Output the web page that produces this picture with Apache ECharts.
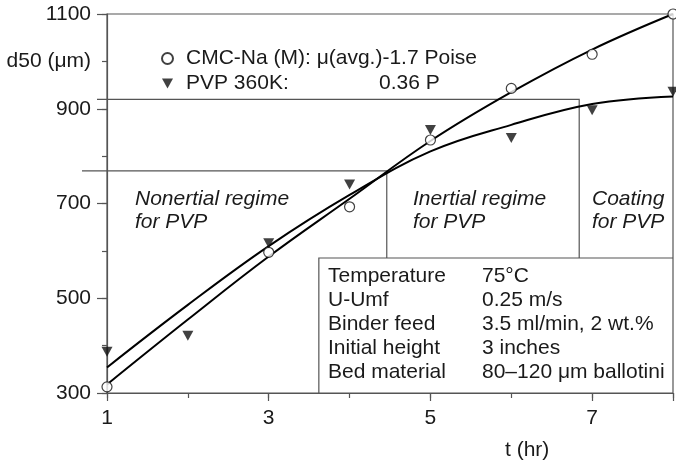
<!DOCTYPE html>
<html>
<head>
<meta charset="utf-8">
<script src="https://cdn.jsdelivr.net/npm/echarts@6/dist/echarts.min.js"></script>
<style>
html, body { margin: 0; padding: 0; background: #fff; }
#chart { width: 676px; height: 464px; }
</style>
</head>
<body>
<div id="chart"></div>
<script>
// measured points, t in hours
const cmcT = [1, 3, 4, 5, 6, 7, 8];
const cmcD50 = [313, 597, 693, 834, 943, 1015, 1100];
const pvpT = [1, 2, 3, 4, 5, 6, 7, 8];
const pvpD50 = [387, 421, 616, 740, 855, 838, 897, 936];

// fitted curves
const fitT = [1, 2, 3, 4, 5, 6, 7, 8];
const cmcFit = [318, 455, 588, 710, 832, 935, 1025, 1100];
const pvpFit = [354, 486, 610, 718, 810, 866, 910, 926];

// regime boundaries (t, d50)
const nonInertialEnd = [4.46, 769];
const inertialEnd = [6.84, 920];
const tableTop = 585;
const tableLeft = 3.62;

const yTickLabels = [300, 500, 700, 900, 1100];
const xTickLabels = [1, 3, 5, 7];

const legendCmc = 'CMC-Na (M): μ(avg.)-1.7 Poise';
const legendPvp = 'PVP 360K';

const conditions = ['Temperature', 'U-Umf', 'Binder feed', 'Initial height', 'Bed material'];
const conditionValues = ['75°C', '0.25 m/s', '3.5 ml/min, 2 wt.%', '3 inches', '80–120 μm ballotini'];

const FONT = '"Liberation Sans", Arial, sans-serif';
const FS = 21;
const ink = '#1a1a1a';
const frame = '#555';

const pair = (xs, ys) => xs.map((x, i) => [x, ys[i]]);

const chart = echarts.init(document.getElementById('chart'));

const options = {
  animation: false,
  grid: {
    left: 107, right: 2, top: 14, bottom: 71,
    show: true, borderColor: frame, borderWidth: 1.2
  },
  legend: {
    orient: 'vertical',
    left: 161, top: 48,
    padding: 0,
    itemGap: 4,
    itemWidth: 11, itemHeight: 11,
    textStyle: {
      fontFamily: FONT, fontSize: FS, color: ink,
      padding: [0, 0, 0, 8],
      rich: { a: { fontFamily: FONT, fontSize: FS, color: ink, width: 193 } }
    },
    formatter: (name) => name === legendPvp ? '{a|PVP 360K:}0.36 P' : name,
    data: [legendCmc, legendPvp]
  },
  xAxis: [
    {
      type: 'value', min: 1, max: 8, interval: 2,
      splitLine: { show: false },
      axisLine: { lineStyle: { color: frame, width: 1.2 } },
      axisTick: { length: 8, lineStyle: { color: frame, width: 1.2 } },
      axisLabel: {
        margin: 15, fontFamily: FONT, fontSize: FS, color: ink,
        formatter: (v) => xTickLabels.includes(v) ? String(v) : ''
      }
    },
    {
      type: 'value', min: 1, max: 8, interval: 1, position: 'bottom',
      splitLine: { show: false },
      axisLine: { show: false },
      axisTick: { length: 5, lineStyle: { color: frame, width: 1.2 } },
      axisLabel: { show: false }
    }
  ],
  yAxis: [
    {
      type: 'value', min: 300, max: 1100, interval: 200,
      splitLine: { show: false },
      axisLine: { show: true, lineStyle: { color: frame, width: 1.2 } },
      axisTick: { length: 10, lineStyle: { color: frame, width: 1.2 } },
      axisLabel: {
        margin: 16, fontFamily: FONT, fontSize: FS, color: ink,
        formatter: (v) => yTickLabels.includes(v) ? String(v) : ''
      }
    },
    {
      type: 'value', min: 300, max: 1100, interval: 100, position: 'left',
      splitLine: { show: false },
      axisLine: { show: false },
      axisTick: { length: 5, lineStyle: { color: frame, width: 1.2 } },
      axisLabel: {
        margin: 16, fontFamily: FONT, fontSize: FS, color: ink,
        formatter: (v) => v === 1000 ? 'd50 (μm)' : ''
      }
    }
  ],
  series: [
    {
      type: 'line', data: pair(fitT, cmcFit), smooth: 0.4, symbol: 'none',
      lineStyle: { color: '#000', width: 2 }, z: 3, silent: true
    },
    {
      type: 'line', data: pair(fitT, pvpFit), smooth: 0.4, symbol: 'none',
      lineStyle: { color: '#000', width: 2 }, z: 3, silent: true
    },
    {
      name: legendCmc, type: 'scatter', data: pair(cmcT, cmcD50),
      symbol: 'circle', symbolSize: 10,
      itemStyle: { color: '#fff', borderColor: '#111', borderWidth: 1.2 },
      z: 4
    },
    {
      name: legendPvp, type: 'scatter', data: pair(pvpT, pvpD50),
      symbol: 'path://M0,0 L10,0 L5,9 Z', symbolSize: [11, 10],
      itemStyle: { color: '#111' },
      z: 4
    }
  ]
};

chart.setOption(options);

// regime boxes, placed through the grid's own scales
const px = (p) => chart.convertToPixel({ gridIndex: 0 }, p);
const poly = (pts) => ({
  type: 'polyline', silent: true, z: 1,
  shape: { points: pts },
  style: { stroke: frame, lineWidth: 1.2, fill: null }
});
const textEl = (left, top, text, italic, lh) => ({
  type: 'text', left: left, top: top, z: 10, silent: true,
  style: { text: text, font: (italic ? 'italic ' : '') + FS + 'px ' + FONT, fill: ink, lineHeight: lh }
});

const axisX = px([1, 300])[0];
chart.setOption({
  graphic: [
    poly([[axisX - 25, px(nonInertialEnd)[1]], px(nonInertialEnd), px([nonInertialEnd[0], tableTop])]),
    poly([[axisX - 10, px(inertialEnd)[1]], px(inertialEnd), px([inertialEnd[0], tableTop])]),
    poly([px([tableLeft, 300]), px([tableLeft, tableTop]), px([8, tableTop])]),
    textEl(135, 188, 'Nonertial regime\nfor PVP', true, 23),
    textEl(413, 188, 'Inertial regime\nfor PVP', true, 23),
    textEl(592, 188, 'Coating\nfor PVP', true, 23),
    textEl(328, 264, conditions.join('\n'), false, 24),
    textEl(482, 264, conditionValues.join('\n'), false, 24),
    textEl(505, 438, 't (hr)', false, 24)
  ]
});
</script>
</body>
</html>
